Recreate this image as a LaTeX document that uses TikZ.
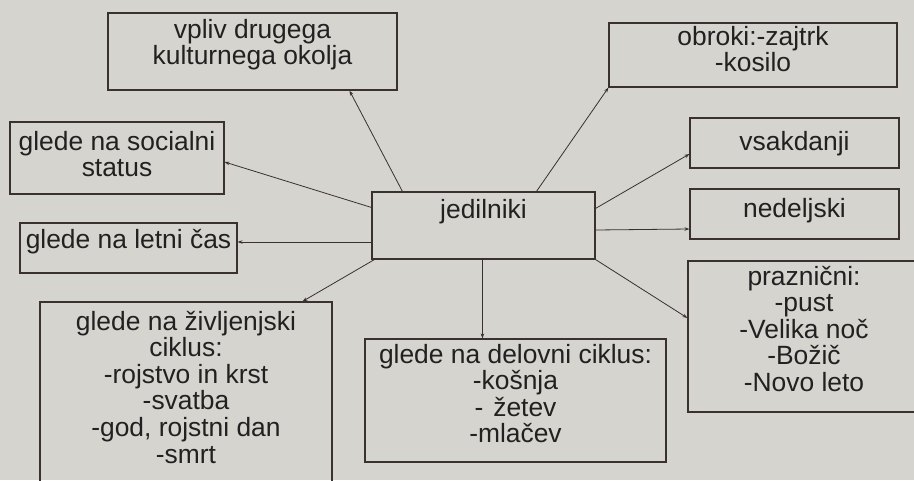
\documentclass[tikz,border=0pt]{standalone}
\usepackage{fontspec}
\setmainfont{Liberation Sans}
\usetikzlibrary{arrows.meta,calc}
\definecolor{bgc}{RGB}{214,212,207}
\definecolor{linec}{RGB}{58,48,48}
\definecolor{textc}{RGB}{34,32,32}
\begin{document}
\begin{tikzpicture}[x=1pt,y=-1pt,
  box/.style={draw=linec,line width=1.1pt,rectangle,inner sep=0pt},
  txt/.style={text=textc,align=center,inner sep=0pt,font=\fontsize{26.4}{26.6}\selectfont},
  conn/.style={draw=linec,line width=0.8pt,-{Stealth[length=5pt,width=3.5pt]}}]
\useasboundingbox (0,0) rectangle (914,480);
\fill[bgc] (0,0) rectangle (914,480);
\begin{scope}
\clip (0,0) rectangle (914,480);
% boxes
\node[box,minimum width=289,minimum height=77] (vpliv) at (252.5,51.5) {};
\node[box,minimum width=288,minimum height=64] (obroki) at (753,55) {};
\node[box,minimum width=214,minimum height=72] (soc) at (117,158) {};
\node[box,minimum width=217,minimum height=50] (letni) at (128.5,248) {};
\node[box,minimum width=223,minimum height=67] (jed) at (483.5,225.5) {};
\node[box,minimum width=209,minimum height=50] (vsak) at (794.5,143) {};
\node[box,minimum width=209,minimum height=50] (ned) at (794.5,214) {};
\node[box,minimum width=292,minimum height=198] (ziv) at (186,401) {};
\node[box,minimum width=301,minimum height=123] (del) at (515.5,400.5) {};
\node[box,minimum width=232,minimum height=151] (praz) at (804,336.5) {};
% texts (base anchor = baseline of the last line)
\node[txt,anchor=base] (vplivt) at (252.5,64.6) {vpliv drugega\\kulturnega okolja};
\node[txt,anchor=base] (obrokit) at (753,71.6) {obroki:-zajtrk\\-kosilo};
\node[txt,anchor=base] (soct) at (117,176.6) {glede na socialni\\status};
\node[txt,anchor=base] (letnit) at (128.5,248) {glede na letni čas};
\node[txt,anchor=base] (jedt) at (483.5,218) {jedilniki};
\node[txt,anchor=base] (vsakt) at (794.5,150) {vsakdanji};
\node[txt,anchor=base] (nedt) at (794.5,217) {nedeljski};
\node[txt,anchor=base] (zivt) at (186,463) {glede na življenjski\\ciklus:\\-rojstvo in krst\\-svatba\\-god, rojstni dan\\-smrt};
\node[txt,anchor=base] (delt) at (515.5,442.8) {glede na delovni ciklus:\\-košnja\\-\hspace{10pt}žetev\\-mlačev};
\node[txt,anchor=base] (prazt) at (804,391.4) {praznični:\\-pust\\-Velika noč\\-Božič\\-Novo leto};
% connectors
\draw[conn] ($(jed.north west)+(31,0)$) -- ($(vpliv.south west)+(242,0)$);
\draw[conn] ($(jed.north west)+(165,0)$) -- (obroki.south west);
\draw[conn] ($(jed.north west)+(0,16)$) -- ($(soc.east)+(0,4)$);
\draw[conn] ($(jed.north east)+(0,17)$) -- ($(vsak.west)+(0,11)$);
\draw[conn] ($(jed.east)+(0,4.5)$) -- ($(ned.west)+(0,15)$);
\draw[conn] ($(jed.west)+(0,16.5)$) -- ($(letni.east)+(0,-6)$);
\draw[conn] ($(jed.south west)+(3,0)$) -- ($(ziv.north west)+(263,0)$);
\draw[conn] ($(jed.south west)+(111,0)$) -- ($(del.north west)+(118,0)$);
\draw[conn] (jed.south east) -- ($(praz.west)+(0,-18.5)$);
\end{scope}
\end{tikzpicture}
\end{document}
